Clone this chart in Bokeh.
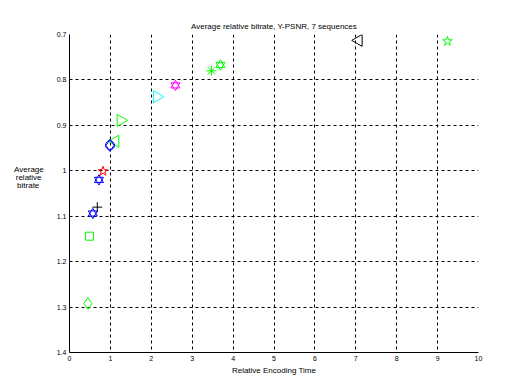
import math
from bokeh.plotting import figure
from bokeh.models import Range1d, ColumnDataSource, FixedTicker
from bokeh.embed import file_html
from bokeh.resources import INLINE

# ---- data ----
enc_time = [7.07, 9.24, 3.69, 3.47, 2.59, 2.14, 1.25, 1.12, 0.99, 0.99, 0.82, 0.72, 0.68, 0.57, 0.49, 0.45]
rel_bitrate = [0.713, 0.715, 0.767, 0.780, 0.812, 0.837, 0.889, 0.935, 0.944, 0.944, 1.001, 1.020, 1.080, 1.094, 1.144, 1.292]
marker_kind = ["tri_left", "star", "hexagram", "asterisk", "hexagram", "tri_right", "tri_right", "tri_left",
               "circle", "diamond", "star", "hexagram", "plus", "hexagram", "square", "diamond"]
marker_color = ["#000000", "#00FF00", "#00FF00", "#00FF00", "#FF00FF", "#00FFFF", "#00FF00", "#00FF00",
                "#0000FF", "#0000FF", "#FF0000", "#0000FF", "#000000", "#0000FF", "#00FF00", "#00FF00"]

x_ticks = [0, 1, 2, 3, 4, 5, 6, 7, 8, 9, 10]
y_ticks = [0.7, 0.8, 0.9, 1.0, 1.1, 1.2, 1.3, 1.4]
y_tick_labels = ["0.7", "0.8", "0.9", "1", "1.1", "1.2", "1.3", "1.4"]

FONT = "Liberation Sans"

p = figure(width=530, height=387, output_backend="svg", toolbar_location=None,
           x_range=Range1d(0, 10), y_range=Range1d(1.4, 0.7),
           min_border_left=69, min_border_right=52, min_border_top=34, min_border_bottom=35)

p.title.text = "Average relative bitrate, Y-PSNR, 7 sequences"
p.title.align = "center"
p.title.text_font = FONT
p.title.text_font_size = "8px"
p.title.text_font_style = "normal"
p.title.text_color = "black"
p.title.offset = 0
p.title.standoff = 8

p.outline_line_color = None
p.background_fill_color = "white"
p.border_fill_color = "white"

for ax in (p.xaxis[0], p.yaxis[0]):
    ax.major_tick_in = 0
    ax.major_tick_out = 0
    ax.minor_tick_in = 0
    ax.minor_tick_out = 0
    ax.axis_line_color = "black"
    ax.axis_line_width = 1
    ax.major_label_text_font = FONT
    ax.major_label_text_font_size = "7px"
    ax.major_label_text_color = "black"
    ax.axis_label_text_font = FONT
    ax.axis_label_text_font_size = "8px"
    ax.axis_label_text_font_style = "normal"
    ax.axis_label_text_color = "black"

p.xaxis.ticker = FixedTicker(ticks=x_ticks)
p.yaxis.ticker = FixedTicker(ticks=y_ticks)
p.yaxis.major_label_overrides = {t: l for t, l in zip(y_ticks, y_tick_labels)}
p.xaxis.axis_label = "Relative Encoding Time"
p.xaxis.major_label_standoff = 3
p.xaxis.axis_label_standoff = 2
p.yaxis.major_label_standoff = 3
p.yaxis.axis_label = "Average\nrelative\u00a0\nbitrate\u00a0\u00a0\n \n \n \n "
p.yaxis.axis_label_orientation = "horizontal"
p.yaxis.axis_label_standoff = 10
p.yaxis.axis_label_text_align = "center"
p.yaxis.axis_label_text_line_height = 0.9

for g in (p.xgrid[0], p.ygrid[0]):
    g.grid_line_color = "black"
    g.grid_line_dash = "3 3"
    g.grid_line_width = 1

# marker mapping
bk = {
    "tri_left": [("triangle", math.pi / 2, 12)],
    "tri_right": [("triangle", -math.pi / 2, 12)],
    "star": [("star", 0, 10)],
    "hexagram": [("triangle", 0, 9), ("inverted_triangle", 0, 9)],
    "asterisk": [("asterisk", 0, 10)],
    "circle": [("circle", 0, 9)],
    "diamond": [("diamond", 0, 12)],
    "plus": [("cross", 0, 10)],
    "square": [("square", 0, 8)],
}
cols = dict(x=[], y=[], m=[], a=[], s=[], c=[])
for xv, yv, k, c in zip(enc_time, rel_bitrate, marker_kind, marker_color):
    for m, a, s in bk[k]:
        cols["x"].append(xv)
        cols["y"].append(yv)
        cols["m"].append(m)
        cols["a"].append(a)
        cols["s"].append(s)
        cols["c"].append(c)
src = ColumnDataSource(cols)
p.scatter(x="x", y="y", marker="m", angle="a", size="s", line_color="c", fill_color=None,
          line_width=1, source=src)

open("out.html", "w").write(file_html(p, INLINE))
